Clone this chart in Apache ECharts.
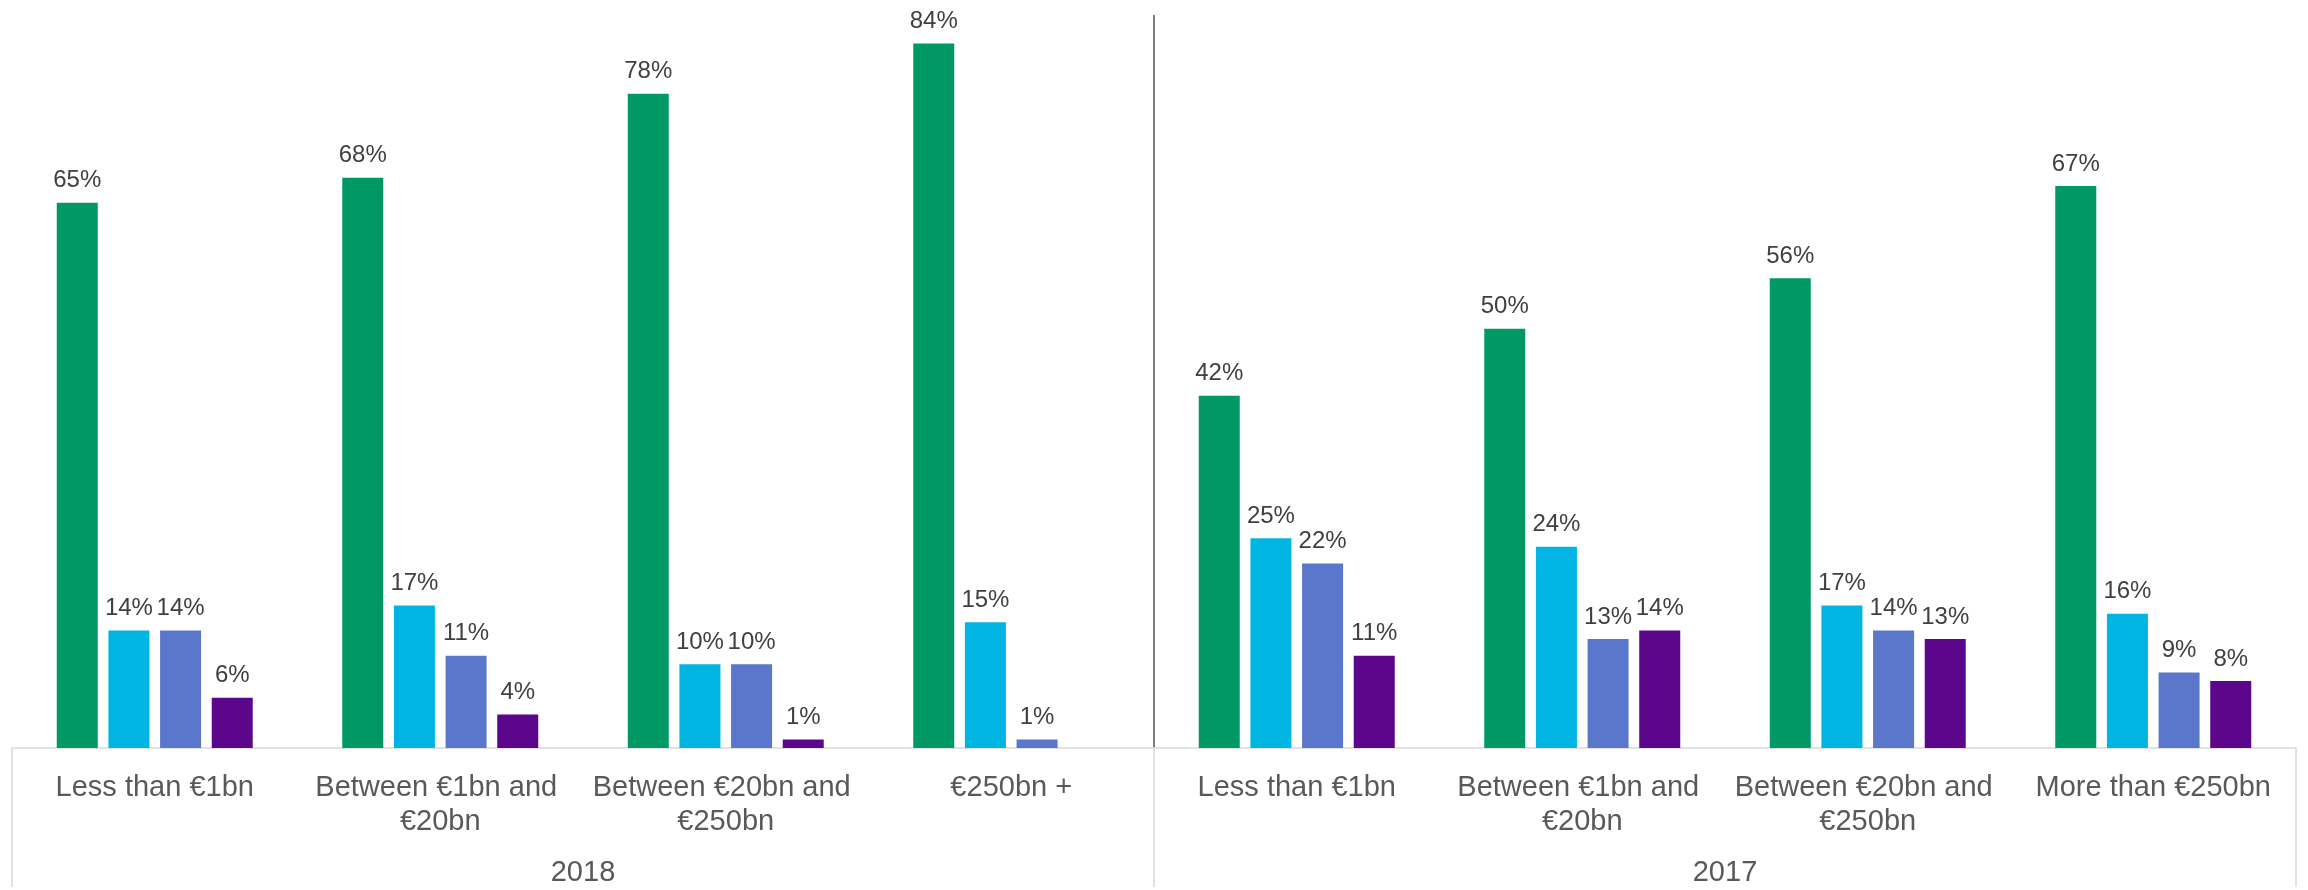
<!DOCTYPE html>
<html>
<head>
<meta charset="utf-8">
<title>Share by asset size</title>
<script src="https://cdn.jsdelivr.net/npm/echarts@6/dist/echarts.min.js"></script>
<style>
  html, body { margin: 0; padding: 0; background: #ffffff; }
  #chart { width: 2308px; height: 890px; }
</style>
</head>
<body>
<div id="chart"></div>
<script>
// Size bands, four per year
const categories = [
  'Less than €1bn', 'Between €1bn and €20bn', 'Between €20bn and €250bn', '€250bn +',
  'Less than €1bn', 'Between €1bn and €20bn', 'Between €20bn and €250bn', 'More than €250bn'
];
const years = ['2018', '2017'];

// Percentages for each answer group
const seriesA = [65, 68, 78, 84, 42, 50, 56, 67];
const seriesB = [14, 17, 10, 15, 25, 24, 17, 16];
const seriesC = [14, 11, 10, 1, 22, 13, 14, 9];
const seriesD = [6, 4, 1, null, 11, 14, 13, 8];

const colors = ['#009966', '#00B5E2', '#5B77CC', '#5C068C'];
const FONT = "'Liberation Sans', Arial, sans-serif";

function barSeries(data, color) {
  return {
    type: 'bar',
    data: data,
    barWidth: 41,
    barGap: '26%',
    itemStyle: { color: color },
    label: {
      show: true,
      position: 'top',
      distance: 10,
      formatter: '{c}%',
      fontFamily: FONT,
      fontSize: 24,
      color: '#404040'
    }
  };
}

const chart = echarts.init(document.getElementById('chart'), null, { renderer: 'canvas' });
chart.setOption({
  backgroundColor: '#ffffff',
  animation: false,
  grid: { left: 12, right: 12, top: 15, bottom: 139, containLabel: false },
  xAxis: [
    {
      type: 'category',
      position: 'bottom',
      data: categories,
      axisLine: { show: true, lineStyle: { color: '#D9D9D9', width: 1.5 } },
      axisTick: { show: false },
      axisLabel: {
        interval: 0,
        margin: 23,
        fontFamily: FONT,
        fontSize: 29,
        lineHeight: 34,
        color: '#595959',
        width: 280,
        overflow: 'break'
      },
      splitLine: { show: false }
    },
    {
      type: 'category',
      position: 'bottom',
      data: years,
      axisLine: { show: false },
      axisTick: { show: true, interval: 0, length: 139, lineStyle: { color: '#D9D9D9', width: 1.5 } },
      axisLabel: {
        interval: 0,
        margin: 108,
        fontFamily: FONT,
        fontSize: 29,
        lineHeight: 34,
        color: '#595959'
      },
      // only the middle boundary (between the two years) is drawn
      splitLine: {
        show: true,
        interval: 0,
        lineStyle: { color: ['transparent', '#7F7F7F'], width: 2 }
      }
    }
  ],
  yAxis: {
    type: 'value',
    min: 0,
    max: 87.4,
    show: false,
    splitLine: { show: false }
  },
  series: [
    barSeries(seriesA, colors[0]),
    barSeries(seriesB, colors[1]),
    barSeries(seriesC, colors[2]),
    barSeries(seriesD, colors[3])
  ]
});
</script>
</body>
</html>
